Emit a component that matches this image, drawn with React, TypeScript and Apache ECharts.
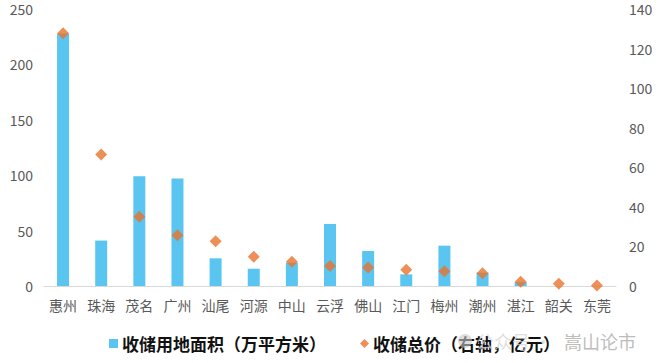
import React, { useEffect, useRef } from "react";
import * as echarts from "echarts";

const categories = ["惠州", "珠海", "茂名", "广州", "汕尾", "河源", "中山", "云浮", "佛山", "江门", "梅州", "潮州", "湛江", "韶关", "东莞"];
const areaValues = [228, 41, 99, 97, 25, 15.6, 21, 56, 31.6, 10.5, 36.4, 12, 3.5, 0, 0];
const priceValues = [127.7, 66.5, 35, 25.6, 22.6, 14.8, 12.3, 10.1, 9.4, 8.2, 7.4, 6.4, 2.2, 1.2, 0.2];
const leftTicks = { min: 0, max: 250, interval: 50 };
const rightTicks = { min: 0, max: 140, interval: 20 };
const areaName = "收储用地面积（万平方米）";
const priceName = "收储总价（右轴，亿元）";

const FONT = "'Noto Sans CJK SC', 'Noto Sans', sans-serif";

export default function App() {
  const ref = useRef<HTMLDivElement>(null);
  useEffect(() => {
    if (!ref.current) return;
    const chart = echarts.init(ref.current, undefined, { renderer: "svg" });
    chart.setOption({
      animation: false,
      backgroundColor: "#ffffff",
      grid: { left: 44, right: 44, top: 9, bottom: 77 },
      legend: {
        left: 104,
        top: 330,
        itemGap: 34,
        itemWidth: 9,
        itemHeight: 9,
        textStyle: { fontSize: 17, fontWeight: "bold", color: "#111111", fontFamily: FONT, padding: [0, 0, 0, -1] },
        data: [
          { name: areaName, icon: "rect", itemStyle: { color: "#5BC5F2" } },
          { name: priceName, icon: "diamond", itemStyle: { color: "#E8732C" } },
        ],
      },
      xAxis: {
        type: "category",
        data: categories,
        axisLine: { lineStyle: { color: "#d9d9d9", width: 1 } },
        axisTick: { show: false },
        axisLabel: { color: "#595959", fontSize: 14, margin: 12, fontFamily: FONT },
      },
      yAxis: [
        {
          type: "value",
          min: leftTicks.min,
          max: leftTicks.max,
          interval: leftTicks.interval,
          splitLine: { show: false },
          axisLine: { show: false },
          axisTick: { show: false },
          axisLabel: { color: "#595959", fontSize: 14, margin: 11, fontFamily: FONT },
        },
        {
          type: "value",
          min: rightTicks.min,
          max: rightTicks.max,
          interval: rightTicks.interval,
          splitLine: { show: false },
          axisLine: { show: false },
          axisTick: { show: false },
          axisLabel: { color: "#595959", fontSize: 14, margin: 13, fontFamily: FONT },
        },
      ],
      series: [
        {
          name: areaName,
          type: "bar",
          data: areaValues,
          barWidth: 12,
          itemStyle: { color: "#5BC5F2" },
          yAxisIndex: 0,
        },
        {
          name: priceName,
          type: "scatter",
          data: priceValues,
          symbol: "diamond",
          symbolSize: 12,
          itemStyle: { color: "#E8732C" },
          yAxisIndex: 1,
          z: 5,
        },
      ],
      graphic: [
        {
          type: "circle",
          shape: { cx: 465, cy: 341, r: 7 },
          style: { fill: "#c8c8c8", opacity: 0.6 },
          z: 100,
        },
        {
          type: "text",
          x: 476,
          y: 341,
          style: {
            text: "公众号 · ",
            fontSize: 18,
            fill: "#d4d4d4",
            opacity: 0.75,
            fontFamily: FONT,
            verticalAlign: "middle",
          },
          z: 100,
        },
        {
          type: "text",
          x: 564,
          y: 341,
          style: {
            text: "嵩山论市",
            fontSize: 18,
            fill: "#bdbdbd",
            fontFamily: FONT,
            verticalAlign: "middle",
          },
          z: 100,
        },
      ],
    });
    return () => chart.dispose();
  }, []);
  return <div ref={ref} style={{ width: 660, height: 363, position: "absolute", left: 0, top: 0 }} />;
}
